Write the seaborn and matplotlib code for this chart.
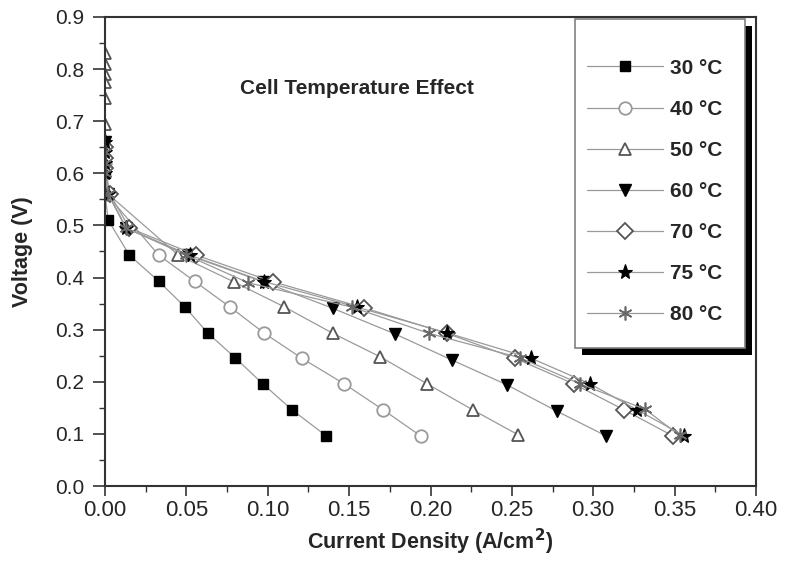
import numpy as np
import pandas as pd
import matplotlib
matplotlib.use("Agg")
import matplotlib.pyplot as plt
import seaborn as sns
from matplotlib.lines import Line2D
from matplotlib.patches import Rectangle

# ---------------- data ----------------
labels = ["30 °C", "40 °C", "50 °C", "60 °C", "70 °C", "75 °C", "80 °C"]

x_30 = [0.000, 0.000, 0.002, 0.015, 0.033, 0.049, 0.063, 0.080, 0.097, 0.115, 0.136]
v_30 = [0.600, 0.560, 0.510, 0.443, 0.393, 0.344, 0.294, 0.246, 0.196, 0.146, 0.096]

x_40 = [0.000, 0.001, 0.033, 0.055, 0.077, 0.098, 0.121, 0.147, 0.171, 0.194]
v_40 = [0.620, 0.560, 0.443, 0.393, 0.343, 0.293, 0.245, 0.196, 0.146, 0.096]

x_50 = [0.000, 0.000, 0.000, 0.000, 0.000, 0.000, 0.002, 0.045, 0.079, 0.110, 0.140, 0.169, 0.198, 0.226, 0.254]
v_50 = [0.830, 0.810, 0.790, 0.775, 0.745, 0.695, 0.560, 0.443, 0.392, 0.344, 0.293, 0.248, 0.196, 0.146, 0.098]

x_60 = [0.000, 0.000, 0.000, 0.000, 0.002, 0.013, 0.051, 0.097, 0.140, 0.178, 0.213, 0.247, 0.278, 0.308]
v_60 = [0.660, 0.640, 0.620, 0.600, 0.560, 0.495, 0.443, 0.392, 0.341, 0.292, 0.242, 0.194, 0.143, 0.096]

x_70 = [0.000, 0.000, 0.000, 0.003, 0.015, 0.056, 0.103, 0.159, 0.210, 0.252, 0.288, 0.319, 0.349]
v_70 = [0.650, 0.630, 0.610, 0.560, 0.495, 0.443, 0.392, 0.342, 0.293, 0.245, 0.196, 0.146, 0.096]

x_75 = [0.000, 0.000, 0.000, 0.000, 0.002, 0.013, 0.052, 0.098, 0.155, 0.210, 0.262, 0.298, 0.327, 0.356]
v_75 = [0.660, 0.640, 0.620, 0.600, 0.560, 0.495, 0.443, 0.392, 0.343, 0.294, 0.245, 0.196, 0.146, 0.096]

x_80 = [0.000, 0.000, 0.000, 0.002, 0.013, 0.050, 0.088, 0.152, 0.199, 0.255, 0.292, 0.332, 0.353]
v_80 = [0.640, 0.620, 0.600, 0.560, 0.495, 0.443, 0.390, 0.343, 0.293, 0.246, 0.196, 0.147, 0.097]

xs = [x_30, x_40, x_50, x_60, x_70, x_75, x_80]
vs = [v_30, v_40, v_50, v_60, v_70, v_75, v_80]

x_ticks = [0.00, 0.05, 0.10, 0.15, 0.20, 0.25, 0.30, 0.35, 0.40]
y_ticks = [0.0, 0.1, 0.2, 0.3, 0.4, 0.5, 0.6, 0.7, 0.8, 0.9]

# ---------------- styles ----------------
line_col = "#9a9a9a"
styles = [
    dict(marker="s", mfc="black", mec="black", ms=7, mew=1.0),
    dict(marker="o", mfc="white", mec="#9a9a9a", ms=9, mew=1.3),
    dict(marker="^", mfc="white", mec="#555555", ms=9, mew=1.3),
    dict(marker="v", mfc="black", mec="black", ms=9, mew=1.0),
    dict(marker="D", mfc="white", mec="#555555", ms=8, mew=1.3),
    dict(marker="*", mfc="black", mec="black", ms=11, mew=0.8),
    dict(marker=(6, 2, 0), mfc="none", mec="#6a6a6a", ms=10, mew=1.2),
]

sns.set_style("white")
plt.rcParams["font.family"] = ["Liberation Sans", "DejaVu Sans"]

W, H = 788, 563
fig = plt.figure(figsize=(W / 100, H / 100), dpi=100)
ax = fig.add_axes([105 / W, 1 - 486 / H, 651 / W, (486 - 17) / H])

df = pd.concat(
    [pd.DataFrame({"J": x, "V": v, "T": lab})
     for x, v, lab in zip(xs, vs, labels)],
    ignore_index=True,
)

handles = []
for lab, st in zip(labels, styles):
    sub = df[df["T"] == lab]
    sns.lineplot(data=sub, x="J", y="V", ax=ax, sort=False, estimator=None,
                 color=line_col, linewidth=0.9, marker=st["marker"],
                 markerfacecolor=st["mfc"], markeredgecolor=st["mec"],
                 markersize=st["ms"], markeredgewidth=st["mew"], legend=False)
    handles.append(Line2D([0], [0], color=line_col, linewidth=0.9,
                          marker=st["marker"], markerfacecolor=st["mfc"],
                          markeredgecolor=st["mec"], markersize=st["ms"],
                          markeredgewidth=st["mew"]))

ax.set_xlim(0, 0.40)
ax.set_ylim(0, 0.9)
ax.set_xticks(x_ticks)
ax.set_xticklabels([f"{t:.2f}" for t in x_ticks])
ax.set_yticks(y_ticks)
ax.set_yticklabels([f"{t:.1f}" for t in y_ticks])
ax.set_xticks(np.arange(0.025, 0.40, 0.05), minor=True)
ax.set_yticks(np.arange(0.05, 0.9, 0.1), minor=True)
ax.tick_params(axis="x", which="major", direction="out", length=7, width=1.2,
               color="#333333", labelsize=16, pad=3)
ax.tick_params(axis="y", which="major", direction="out", length=9, width=1.2,
               color="#333333", labelsize=15, pad=6)
ax.tick_params(which="minor", direction="out", length=4, width=1.0,
               color="#333333")
ax.tick_params(axis="both", which="both", bottom=True, left=True, top=False, right=False)
for sp in ax.spines.values():
    sp.set_color("#333333")
    sp.set_linewidth(1.5)

ax.set_xlabel("Current Density (A/cm$^\\mathbf{2}$)", fontsize=15.5, fontweight="bold")
ax.xaxis.set_label_coords(0.5, -(542 - 486) / 469)
ax.xaxis.label.set_va("center")
ax.set_ylabel("Voltage (V)", fontsize=15.5, fontweight="bold")
ax.yaxis.set_label_coords((22 - 105) / 651, 0.5)
ax.yaxis.label.set_va("center")

ax.text(0.155, 0.763, "Cell Temperature Effect", fontsize=15, fontweight="bold",
        ha="center", va="center")

# legend frame with a hard black drop shadow
fx0, fy_top, fx1, fy_bot = 575, 19, 745, 348
fig.add_artist(Rectangle(((fx0 + 7) / W, 1 - (fy_bot + 7) / H), (fx1 - fx0) / W,
                         (fy_bot - fy_top) / H, transform=fig.transFigure,
                         facecolor="black", edgecolor="none", zorder=4))
fig.add_artist(Rectangle((fx0 / W, 1 - fy_bot / H), (fx1 - fx0) / W,
                         (fy_bot - fy_top) / H, transform=fig.transFigure,
                         facecolor="white", edgecolor="#808080", linewidth=1.2,
                         zorder=5))

leg = fig.legend(handles, labels, loc="center left",
                 bbox_to_anchor=(587 / W, 1 - 191.5 / H),
                 prop={"weight": "bold", "size": 15},
                 frameon=False, handlelength=3.65,
                 handletextpad=0.35, labelspacing=1.06, borderpad=0.0,
                 borderaxespad=0.0)
leg.set_zorder(6)

fig.savefig("out.png", dpi=100)
